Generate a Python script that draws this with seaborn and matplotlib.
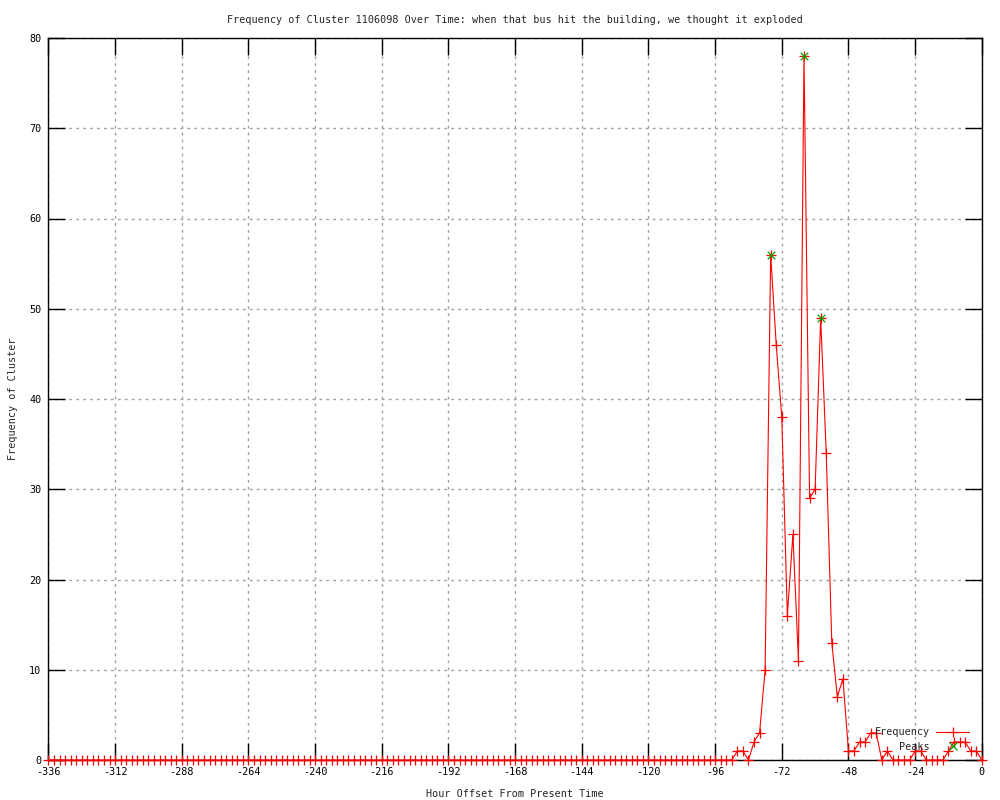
import matplotlib
matplotlib.use("Agg")
import matplotlib.pyplot as plt
import seaborn as sns
import pandas as pd
from matplotlib.lines import Line2D

# ---- data ----
hours = list(range(-336, 1, 2))
frequency = [0] * 124 + [
    1, 1, 0, 2, 3, 10, 56, 46, 38, 16,
    25, 11, 78, 29, 30, 49, 34, 13, 7, 9,
    1, 1, 2, 2, 3, 3, 0, 1, 0, 0,
    0, 0, 1, 1, 0, 0, 0, 0, 1, 2,
    2, 2, 1, 1, 0,
]
peak_hours = [-76, -64, -58]
peak_values = [56, 78, 49]
x_ticks = list(range(-336, 1, 24))
y_ticks = list(range(0, 81, 10))

title = "Frequency of Cluster 1106098 Over Time: when that bus hit the building, we thought it exploded"
xlabel = "Hour Offset From Present Time"
ylabel = "Frequency of Cluster"

df = pd.DataFrame({"hour": hours, "freq": frequency})
pk = pd.DataFrame({"hour": peak_hours, "freq": peak_values})

sns.set_style("white")
plt.rcParams["font.family"] = ["DejaVu Sans Mono"]
plt.rcParams["axes.unicode_minus"] = False
FS = 7.3

fig = plt.figure(figsize=(10, 8), dpi=100)
ax = fig.add_axes([0.0484, 0.05, 0.9334, 0.9025])

sns.lineplot(data=df, x="hour", y="freq", ax=ax, color="#ff0000", linewidth=0.8,
             marker="+", markersize=6.5, markeredgewidth=0.9, markeredgecolor="#ff0000",
             clip_on=False, zorder=4)
sns.scatterplot(data=pk, x="hour", y="freq", ax=ax, color="#00a000", marker="x",
                s=30, linewidth=0.9, zorder=5, clip_on=False)

ax.set_xlim(-336, 0)
ax.set_ylim(0, 80)
ax.set_xticks(x_ticks)
ax.set_yticks(y_ticks)
ax.tick_params(direction="in", length=12, width=1, colors="black", labelsize=FS,
               top=True, right=True, bottom=True, left=True, pad=5)
ax.grid(True, linestyle=(0, (2, 3)), color="#a0a0a0", linewidth=1.0)
for s in ax.spines.values():
    s.set_color("black")
    s.set_linewidth(1.0)
    s.set_zorder(3)

ax.set_title(title, fontsize=FS, pad=11)
ax.set_xlabel(xlabel, fontsize=FS, labelpad=9)
ax.set_ylabel(ylabel, fontsize=FS, labelpad=8)

handles = [
    Line2D([], [], color="#ff0000", linewidth=0.8, marker="+", markersize=6.5,
           markeredgewidth=0.9),
    Line2D([], [], color="#00a000", linestyle="none", marker="x", markersize=5.5,
           markeredgewidth=0.9),
]
ax.legend(handles, ["Frequency", "Peaks"], loc="lower right",
          bbox_to_anchor=(0.991, 0.006), frameon=False, markerfirst=False,
          fontsize=FS, handlelength=3.3, handletextpad=0.6, labelspacing=0.45,
          borderaxespad=0)

fig.savefig("out.png", dpi=100)
